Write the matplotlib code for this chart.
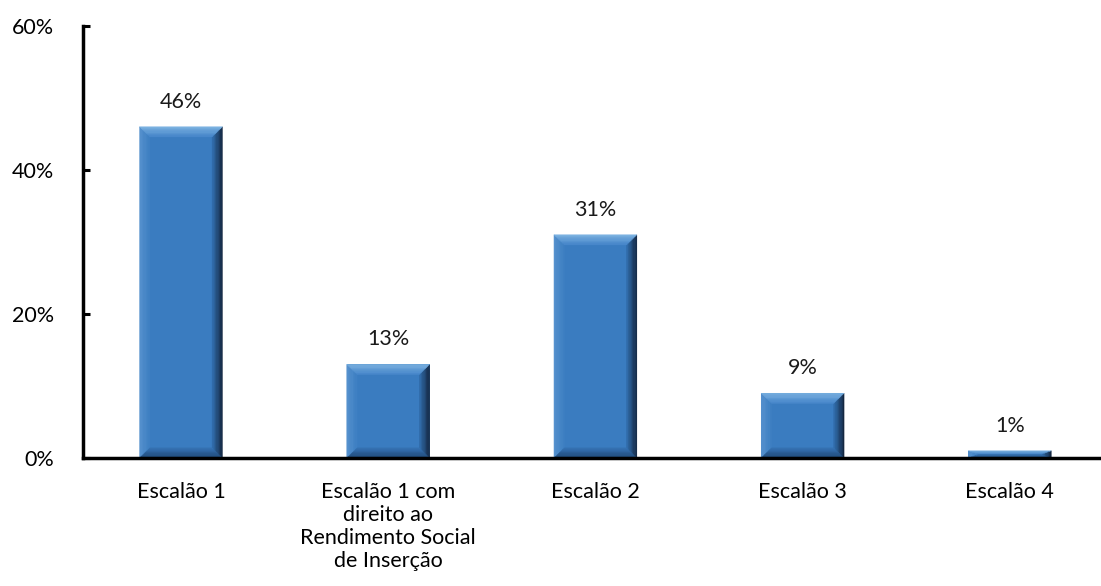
import numpy as np
import matplotlib.pyplot as plt
import matplotlib.colors as mcolors
from matplotlib.patches import Polygon
from matplotlib.ticker import PercentFormatter

plt.rcParams['font.family'] = ['Lato', 'DejaVu Sans']

categories = ["Escalão 1",
              "Escalão 1 com\ndireito ao\nRendimento Social\nde Inserção",
              "Escalão 2", "Escalão 3", "Escalão 4"]
shares = [46, 13, 31, 9, 1]
yticks = [0, 20, 40, 60]

face = "#3a7cc0"
# (outer, inner) colours of each bevel facet
bevel_colors = {
    "top": ("#80b5e3", "#4686ca"),
    "left": ("#5893cf", "#3d7fc2"),
    "right": ("#12223a", "#3270b0"),
    "bottom": ("#1e4470", "#3573b4"),
}


def mix(c1, c2, t):
    a = np.array(mcolors.to_rgb(c1))
    b = np.array(mcolors.to_rgb(c2))
    return tuple(a + (b - a) * t)


def bevel_bar(ax, rect, ex, by, n=8):
    x0 = rect.get_x()
    x1 = x0 + rect.get_width()
    h = rect.get_height()
    by = min(by, h / 2)
    for k in range(n):
        a, b = k / n, (k + 1) / n
        col = lambda side: mix(*bevel_colors[side], (k + 0.5) / n)
        strips = {
            "top": [(x0 + a * ex, h - a * by), (x1 - a * ex, h - a * by),
                    (x1 - b * ex, h - b * by), (x0 + b * ex, h - b * by)],
            "bottom": [(x0 + a * ex, a * by), (x1 - a * ex, a * by),
                       (x1 - b * ex, b * by), (x0 + b * ex, b * by)],
            "left": [(x0 + a * ex, a * by), (x0 + a * ex, h - a * by),
                     (x0 + b * ex, h - b * by), (x0 + b * ex, b * by)],
            "right": [(x1 - a * ex, a * by), (x1 - a * ex, h - a * by),
                      (x1 - b * ex, h - b * by), (x1 - b * ex, b * by)],
        }
        for side in ("left", "right", "top", "bottom"):
            ax.add_patch(Polygon(strips[side], closed=True, facecolor=col(side),
                                 edgecolor=col(side), linewidth=0.3, zorder=3))


fig = plt.figure(figsize=(11.01, 5.86), dpi=100)
ax = fig.add_axes([83 / 1101, 128 / 586, 1018 / 1101, 432 / 586])

bar_w = 0.4
bars = ax.bar(range(len(shares)), shares, width=bar_w, color=face,
              edgecolor="none", zorder=2)

for rect in bars:
    bevel_bar(ax, rect, ex=0.05, by=1.4)
    h = rect.get_height()
    ax.annotate(f"{h:.0f}%", (rect.get_x() + rect.get_width() / 2, h),
                xytext=(0, 11), textcoords="offset points",
                ha="center", va="bottom", fontsize=15.5, color="#1a1a1a")

ax.set_xlim(-0.473, 4.44)
ax.set_ylim(0, 60)
ax.set_yticks(yticks)
ax.yaxis.set_major_formatter(PercentFormatter(decimals=0))
ax.set_xticks(range(len(categories)))
ax.set_xticklabels(categories, fontsize=15.5, linespacing=1.2)
ax.tick_params(axis="x", length=0, pad=17)
ax.tick_params(axis="y", direction="in", length=5, width=2.2,
               labelsize=15.5, pad=21)

for side in ("top", "right"):
    ax.spines[side].set_visible(False)
for side in ("left", "bottom"):
    ax.spines[side].set_linewidth(2.5)
    ax.spines[side].set_color("black")
    ax.spines[side].set_zorder(4)

fig.savefig("out.png", dpi=100)
